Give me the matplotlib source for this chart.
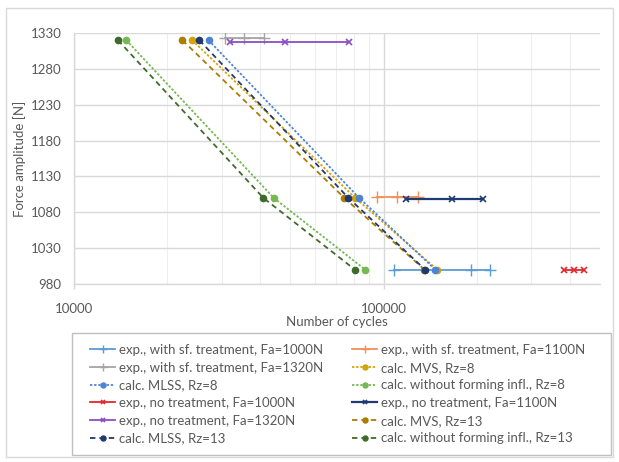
import matplotlib
matplotlib.use("Agg")
import matplotlib.pyplot as plt
from matplotlib.ticker import FixedLocator, FixedFormatter, NullFormatter
from matplotlib.patches import Rectangle

plt.rcParams['font.family'] = ['Lato', 'DejaVu Sans']

# ---- experimental results: scatter band (cycles) at each force level ----
exp_sf_1000_n = [107700, 191300, 219900]
exp_sf_1000_f = [1000, 1000, 1000]
exp_sf_1100_n = [95200, 110400, 129100]
exp_sf_1100_f = [1102, 1102, 1102]
exp_sf_1320_n = [30800, 35500, 41000]
exp_sf_1320_f = [1323, 1323, 1323]
exp_no_1000_n = [381500, 411500, 444000]
exp_no_1000_f = [1000, 1000, 1000]
exp_no_1100_n = [118300, 166700, 209000]
exp_no_1100_f = [1098, 1098, 1098]
exp_no_1320_n = [31800, 48100, 77200]
exp_no_1320_f = [1318, 1318, 1318]

# ---- calculated lives at 1320 / 1100 / 1000 N ----
calc_force = [1320, 1100, 1000]
calc_mvs_rz8 = [24100, 81000, 149000]
calc_mlss_rz8 = [27200, 83400, 147000]
calc_nofi_rz8 = [14750, 44200, 87200]
calc_mvs_rz13 = [22400, 74700, 135500]
calc_mlss_rz13 = [25400, 77000, 136200]
calc_nofi_rz13 = [13870, 40900, 80800]

y_ticks = list(range(980, 1331, 50))
x_ticks = [10000, 100000]
x_tick_labels = ['10000', '100000']

labels = [
    "exp., with sf. treatment, Fa=1000N",
    "exp., with sf. treatment, Fa=1100N",
    "exp., with sf. treatment, Fa=1320N",
    "calc. MVS, Rz=8",
    "calc. MLSS, Rz=8",
    "calc. without forming infl., Rz=8",
    "exp., no treatment, Fa=1000N",
    "exp., no treatment, Fa=1100N",
    "exp., no treatment, Fa=1320N",
    "calc. MVS, Rz=13",
    "calc. MLSS, Rz=13",
    "calc. without forming infl., Rz=13",
]

FS = 9.5
TXT = '#595959'

fig = plt.figure(figsize=(6.19, 4.62), dpi=100)
W, H = 619, 462
ax = fig.add_axes([74 / W, 1 - 284 / H, (600 - 74) / W, (284 - 33) / H])

# chart area border
fig.patches.append(Rectangle((6 / W, 1 - 457 / H), (613 - 6) / W, (457 - 8) / H,
                             transform=fig.transFigure, fill=False,
                             edgecolor='#D9D9D9', linewidth=1.0))

dot8 = (0, (1.3, 1.0))
dash13 = (0, (3.0, 2.2))
lw = 1.3

handles = []
# experimental, surface treated
handles.append(ax.plot(exp_sf_1000_n, exp_sf_1000_f, '-', color='#5B9BD5', lw=lw,
                       marker='+', ms=8, mew=1.0)[0])
handles.append(ax.plot(exp_sf_1100_n, exp_sf_1100_f, '-', color='#F0915A', lw=lw,
                       marker='+', ms=8, mew=1.0)[0])
handles.append(ax.plot(exp_sf_1320_n, exp_sf_1320_f, '-', color='#A5A5A5', lw=lw,
                       marker='+', ms=8, mew=1.0)[0])
# calculated, Rz=8
handles.append(ax.plot(calc_mvs_rz8, calc_force, linestyle=dot8, color='#D4A20A', lw=lw,
                       marker='o', ms=4.5)[0])
handles.append(ax.plot(calc_mlss_rz8, calc_force, linestyle=dot8, color='#4E83D4', lw=lw,
                       marker='o', ms=4.5)[0])
handles.append(ax.plot(calc_nofi_rz8, calc_force, linestyle=dot8, color='#76B852', lw=lw,
                       marker='o', ms=4.5)[0])
# experimental, untreated
handles.append(ax.plot(exp_no_1000_n, exp_no_1000_f, '-', color='#E5282B', lw=lw,
                       marker='x', ms=4, mew=1.2)[0])
handles.append(ax.plot(exp_no_1100_n, exp_no_1100_f, '-', color='#1F3B73', lw=lw + 0.3,
                       marker='x', ms=4, mew=1.2)[0])
handles.append(ax.plot(exp_no_1320_n, exp_no_1320_f, '-', color='#8B4DC2', lw=lw,
                       marker='x', ms=4, mew=1.2)[0])
# calculated, Rz=13
handles.append(ax.plot(calc_mvs_rz13, calc_force, linestyle=dash13, color='#A97D00', lw=lw,
                       marker='o', ms=4.5)[0])
handles.append(ax.plot(calc_mlss_rz13, calc_force, linestyle=dash13, color='#203A70', lw=lw,
                       marker='o', ms=4.5)[0])
handles.append(ax.plot(calc_nofi_rz13, calc_force, linestyle=dash13, color='#3F6B2A', lw=lw,
                       marker='o', ms=4.5)[0])

ax.set_xscale('log')
ax.set_xlim(10000, 500000)
ax.set_ylim(980, 1330)

ax.yaxis.set_major_locator(FixedLocator(y_ticks))
ax.xaxis.set_major_locator(FixedLocator(x_ticks))
ax.xaxis.set_major_formatter(FixedFormatter(x_tick_labels))
minor = [k * 10000 for k in range(2, 10)] + [k * 100000 for k in range(2, 6)]
ax.xaxis.set_minor_locator(FixedLocator(minor))
ax.xaxis.set_minor_formatter(NullFormatter())

ax.grid(True, which='major', axis='y', color='#D9D9D9', lw=1.0)
ax.grid(True, which='major', axis='x', color='#D9D9D9', lw=1.0)
ax.grid(True, which='minor', axis='x', color='#EEEEEE', lw=0.8)
ax.set_axisbelow(True)

for s in ['top', 'right']:
    ax.spines[s].set_visible(False)
for s in ['left', 'bottom']:
    ax.spines[s].set_color('#D9D9D9')
    ax.spines[s].set_linewidth(1.0)

ax.tick_params(axis='y', length=0, pad=9, labelsize=FS, labelcolor=TXT)
ax.tick_params(axis='x', which='major', length=3.6, width=1.0, color='#D9D9D9',
               pad=10, labelsize=FS, labelcolor=TXT)
ax.tick_params(axis='x', which='minor', length=0)

ax.set_xlabel('Number of cycles', fontsize=FS, color=TXT, labelpad=1)
ax.set_ylabel('Force amplitude [N]', fontsize=FS, color=TXT, labelpad=3)

# legend: two columns, filled row by row
order = [0, 2, 4, 6, 8, 10, 1, 3, 5, 7, 9, 11]
leg = fig.legend([handles[i] for i in order], [labels[i] for i in order],
                 loc='upper left', bbox_to_anchor=(90 / W, 1 - 344 / H),
                 ncol=2, frameon=False, fontsize=FS, handlelength=1.9,
                 handletextpad=0.3, columnspacing=2.2, labelspacing=0.43,
                 borderpad=0, borderaxespad=0, numpoints=1, labelcolor=TXT,
                 markerscale=0.8)
fig.patches.append(Rectangle((72 / W, 1 - 455 / H), (611 - 72) / W, (455 - 333) / H,
                             transform=fig.transFigure, fill=False,
                             edgecolor='#BFBFBF', linewidth=1.0))

fig.savefig('out.png', dpi=100)
